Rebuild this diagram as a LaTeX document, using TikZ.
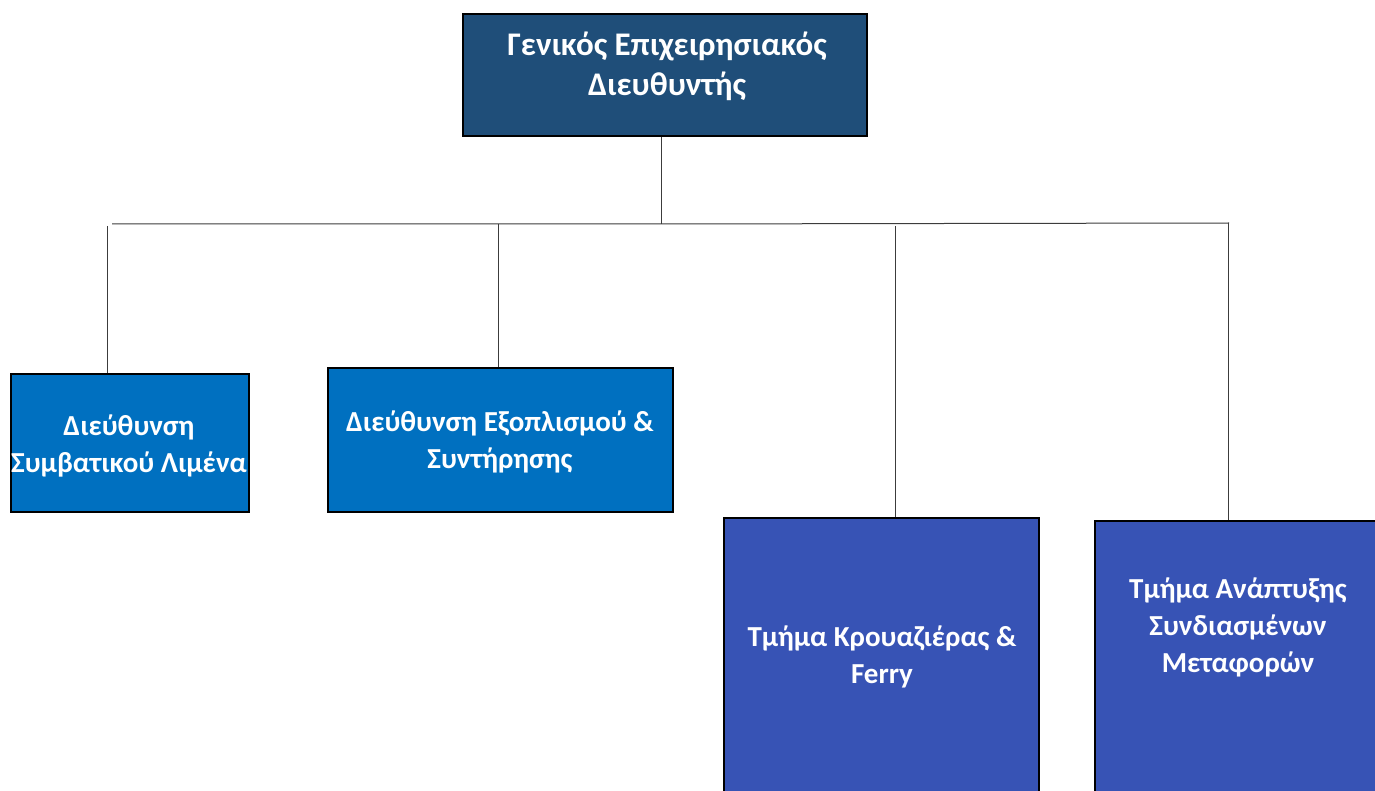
\documentclass[tikz,border=0pt]{standalone}
\usepackage{fontspec}
\setmainfont{Carlito}
\definecolor{topblue}{RGB}{31,78,121}
\definecolor{midblue}{RGB}{0,112,192}
\definecolor{deepblue}{RGB}{55,83,181}
\definecolor{linegray}{RGB}{60,60,60}
\tikzset{
  orgbox/.style={draw=black, line width=1.6pt, rectangle, inner sep=0pt, anchor=north west},
  orgtext/.style={text=white, font=\bfseries\fontsize{29}{37}\selectfont, align=center, inner sep=0pt},
  toptext/.style={text=white, font=\bfseries\fontsize{33}{40}\selectfont, align=center, inner sep=0pt},
  wire/.style={draw=linegray, line width=1pt}
}
\begin{document}
\begin{tikzpicture}[x=1pt,y=1pt]
\useasboundingbox (0,0) rectangle (1375,-791);
% boxes
\node[orgbox, fill=topblue, minimum width=404pt, minimum height=122pt] (top) at (462,-13) {};
\node[orgbox, fill=midblue, minimum width=238pt, minimum height=138pt] (b1) at (10,-373) {};
\node[orgbox, fill=midblue, minimum width=345pt, minimum height=144pt] (b2) at (327,-367) {};
\node[orgbox, fill=deepblue, minimum width=315pt, minimum height=300pt] (b3) at (723,-517) {};
\node[orgbox, fill=deepblue, minimum width=300pt, minimum height=300pt] (b4) at (1094,-520) {};
% texts
\node[toptext] (ttop) at (667,-66) {Γενικός Επιχειρησιακός\\Διευθυντής};
\node[orgtext] (t1) at (129,-446) {Διεύθυνση\\Συμβατικού Λιμένα};
\node[orgtext] (t2) at (500,-442) {Διεύθυνση Εξοπλισμού \&\\Συντήρησης};
\node[orgtext] (t3) at (882,-657) {Τμήμα Κρουαζιέρας \&\\Ferry};
\node[orgtext] (t4) at (1238,-627) {Τμήμα Ανάπτυξης\\Συνδιασμένων\\Μεταφορών};
% connector coordinates
\coordinate (hub) at (661,-224);
\coordinate (hl) at (112,-224);
\coordinate (hr) at (1229,-223);
\coordinate (j1) at (107,-226);
\coordinate (j2) at (498,-224);
\coordinate (j3) at (895,-226);
\coordinate (j4) at (1228,-223);
% connectors
\draw[wire] (top.south -| hub) -- (hub);
\draw[wire] (hl) -- (hub) -- (hr);
\draw[wire] (j1) -- (j1 |- b1.north);
\draw[wire] (j2) -- (j2 |- b2.north);
\draw[wire] (j3) -- (j3 |- b3.north);
\draw[wire] (j4) -- (j4 |- b4.north);
\end{tikzpicture}
\end{document}
